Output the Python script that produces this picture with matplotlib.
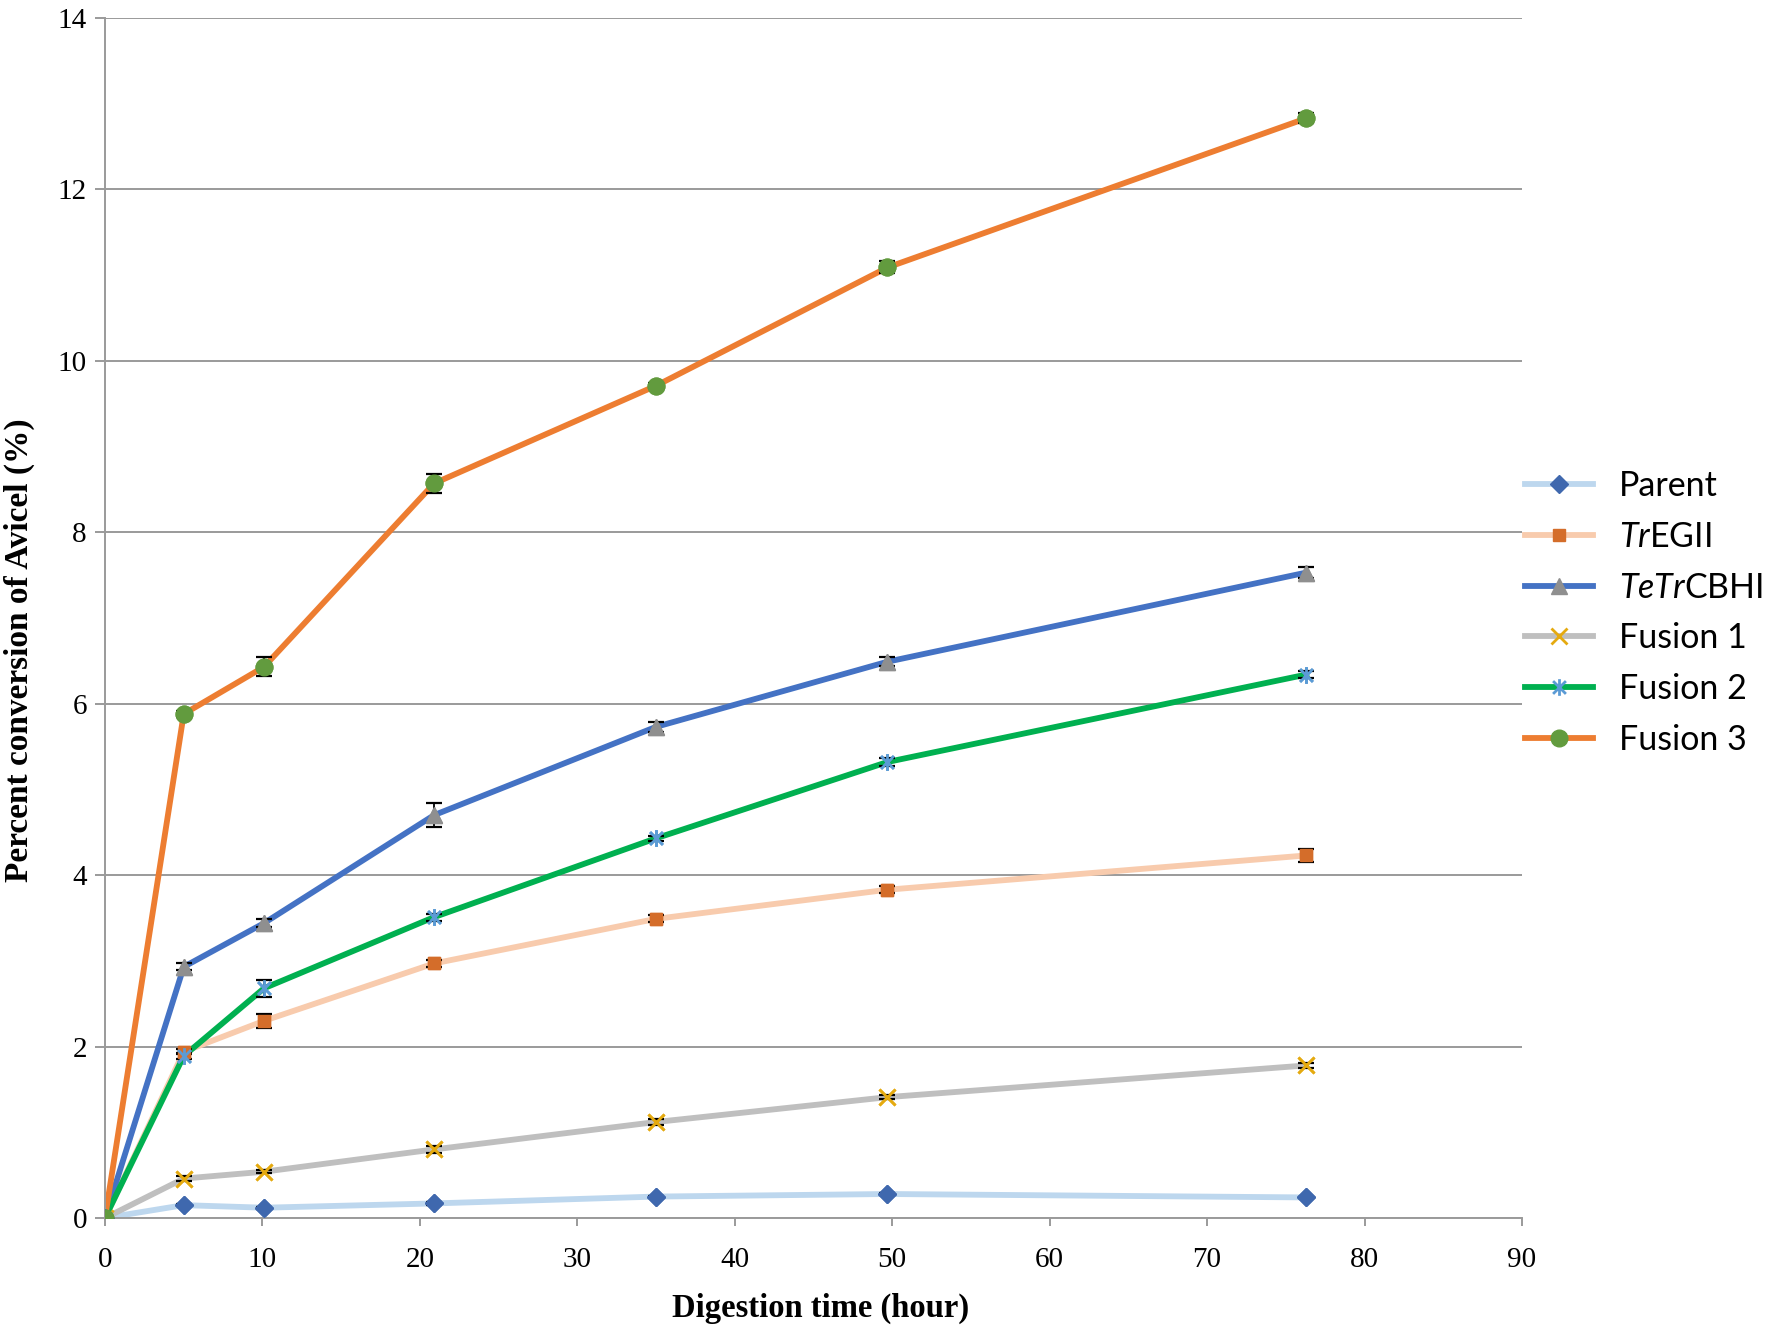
import matplotlib.pyplot as plt
from matplotlib.path import Path

plt.rcParams['mathtext.fontset'] = 'custom'
plt.rcParams['mathtext.rm'] = 'Lato'
plt.rcParams['mathtext.it'] = 'Lato:italic'

hours = [0, 5, 10.1, 20.9, 35, 49.7, 76.3]

parent = [0, 0.15, 0.12, 0.17, 0.25, 0.28, 0.24]
tregii = [0, 1.94, 2.30, 2.97, 3.49, 3.83, 4.23]
tetrcbhi = [0, 2.93, 3.44, 4.70, 5.73, 6.49, 7.53]
fusion1 = [0, 0.46, 0.54, 0.80, 1.12, 1.41, 1.78]
fusion2 = [0, 1.89, 2.68, 3.51, 4.43, 5.32, 6.34]
fusion3 = [0, 5.88, 6.43, 8.57, 9.71, 11.09, 12.83]

parent_err = [0, 0.01, 0.01, 0.02, 0.01, 0.01, 0.01]
tregii_err = [0, 0.03, 0.08, 0.04, 0.04, 0.04, 0.08]
tetrcbhi_err = [0, 0.04, 0.05, 0.14, 0.06, 0.05, 0.06]
fusion1_err = [0, 0.03, 0.02, 0.04, 0.03, 0.02, 0.03]
fusion2_err = [0, 0.04, 0.10, 0.04, 0.03, 0.05, 0.04]
fusion3_err = [0, 0.03, 0.11, 0.11, 0.03, 0.07, 0.06]

labels = ['Parent', r'$\mathit{Tr}$EGII', r'$\mathit{TeTr}$CBHI',
          'Fusion 1', 'Fusion 2', 'Fusion 3']

# excel-like star marker: x with a vertical stroke
star = Path([(-1, -1), (1, 1), (-1, 1), (1, -1), (0, -1.3), (0, 1.3)],
            [Path.MOVETO, Path.LINETO, Path.MOVETO, Path.LINETO, Path.MOVETO, Path.LINETO])

series = [
    (parent, parent_err, '#BDD7EE', 'D', '#3F68AE', 9, 1),
    (tregii, tregii_err, '#F8CBAD', 's', '#D46D2A', 9, 1),
    (tetrcbhi, tetrcbhi_err, '#4472C4', '^', '#8F8F8F', 12, 1),
    (fusion1, fusion1_err, '#BFBFBF', 'x', '#E5AA10', 11, 2),
    (fusion2, fusion2_err, '#00B050', star, '#5B9BD5', 12, 2),
    (fusion3, fusion3_err, '#ED7D31', 'o', '#629B3E', 12, 1),
]

fig = plt.figure(figsize=(17.73, 13.28), dpi=100)
ax = fig.add_axes([105/1773, 1 - 1218/1328, 1417/1773, 1200/1328])

handles = []
for (vals, err, lc, mk, mc, ms, mew), lab in zip(series, labels):
    h, = ax.plot(hours, vals, color=lc, lw=4.2, marker=mk, markersize=ms,
                 markerfacecolor=mc, markeredgecolor=mc,
                 markeredgewidth=mew, label=lab, zorder=2)
    handles.append(h)
    ax.errorbar(hours, vals, yerr=err, fmt='none', ecolor='black',
                elinewidth=1.3, capsize=5.5, capthick=1.6, zorder=3)
    ax.plot(hours, vals, ls='none', marker=mk, markersize=ms,
            markerfacecolor=mc, markeredgecolor=mc,
            markeredgewidth=mew, zorder=4)

ax.set_xlim(0, 90)
ax.set_ylim(0, 14)
ax.set_xticks(range(0, 91, 10))
ax.set_yticks(range(0, 15, 2))
ax.yaxis.grid(True, color='#9A9A9A', lw=1.4)
ax.set_axisbelow(True)
for s in ['top', 'right']:
    ax.spines[s].set_visible(False)
for s in ['left', 'bottom']:
    ax.spines[s].set_color('#9A9A9A')
    ax.spines[s].set_linewidth(1.4)
ax.tick_params(axis='x', direction='out', length=6, width=1.4, color='#9A9A9A', pad=15)
ax.tick_params(axis='y', direction='out', length=7, width=1.4, color='#9A9A9A', pad=6)
for t in ax.get_xticklabels() + ax.get_yticklabels():
    t.set_fontfamily('Liberation Serif')
    t.set_fontsize(21)

fig.text(821/1773, 1 - 1308/1328, 'Digestion time (hour)', ha='center', va='center',
         fontfamily='Liberation Serif', fontweight='bold', fontsize=23.5)
fig.text(19/1773, 1 - 650/1328, 'Percent conversion of Avicel (%)', ha='center',
         va='center', rotation=90, fontfamily='Liberation Serif',
         fontweight='bold', fontsize=24)

fig.legend(handles=handles, loc='center left', bbox_to_anchor=(1525/1773, 1 - 613/1328),
           frameon=False, prop={'family': 'Lato', 'size': 24.5}, handlelength=2.0,
           handletextpad=0.75, labelspacing=0.55, borderpad=0, borderaxespad=0)

fig.savefig('out.png', dpi=100)
